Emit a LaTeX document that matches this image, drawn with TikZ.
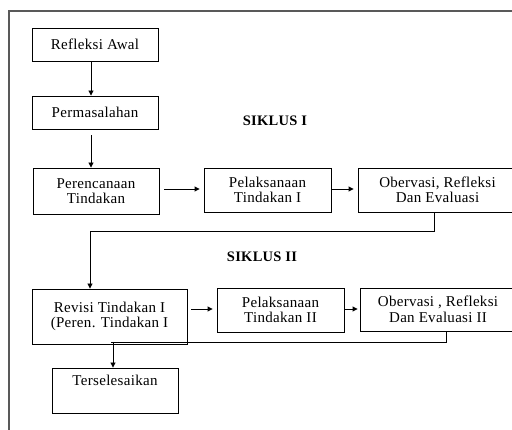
\documentclass[tikz,border=0pt]{standalone}
\usepackage{fontspec}
\setmainfont{Liberation Serif}[LetterSpace=2]
\usetikzlibrary{arrows.meta}

\tikzset{
  kotak/.style={draw, line width=0.9pt, align=center, inner sep=0pt,
    font=\fontsize{15}{15.5}\selectfont},
  judul/.style={font=\fontsize{14.5}{15.5}\selectfont\bfseries},
  panah/.style={line width=0.9pt, -{Triangle[length=5pt,width=5pt]}},
  garis/.style={line width=0.9pt},
  bingkai/.style={line width=1.3pt, black!65}
}

\begin{document}
\begin{tikzpicture}[x=1pt,y=-1pt]
  \useasboundingbox (0,0) rectangle (512,430);
  \clip (0,0) rectangle (512,430);
  \draw[bingkai] (513,11) -- (9,11) -- (9,431);

  % kolom kiri
  \node[kotak, minimum width=126pt, minimum height=33pt] (awal) at (95,44.5) {Refleksi Awal};
  \node[kotak, minimum width=126pt, minimum height=33pt] (masalah) at (95,112.5) {Permasalahan};
  \node[kotak, minimum width=126pt, minimum height=46pt] (rencana) at (96,191) {Perencanaan\\Tindakan};

  % siklus I
  \node[judul] (siklus1) at (275,121) {SIKLUS I};
  \node[kotak, minimum width=127pt, minimum height=44pt] (laksana1) at (267.5,190) {Pelaksanaan\\Tindakan I};
  \node[kotak, minimum width=159pt, minimum height=44pt] (obs1) at (437.5,190) {Obervasi, Refleksi\\Dan Evaluasi};

  % siklus II
  \node[judul] (siklus2) at (262,257) {SIKLUS II};
  \node[kotak, minimum width=155pt, minimum height=55pt] (revisi) at (109.5,316.5) {Revisi Tindakan I\\(Peren. Tindakan I};
  \node[kotak, minimum width=127pt, minimum height=44pt] (laksana2) at (280.5,310) {Pelaksanaan\\Tindakan II};
  \node[kotak, minimum width=156pt, minimum height=43pt] (obs2) at (438,309.5) {Obervasi , Refleksi\\Dan Evaluasi II};
  \node[kotak, minimum width=126pt, text height=15pt, text depth=24pt, inner ysep=3pt] (tersel) at (115,390.5) {Terselesaikan};

  % panah
  \draw[panah] ([xshift=-4pt]awal.south) -- ([xshift=-4pt]masalah.north);
  \draw[panah, shorten <=6pt] ([xshift=-4pt]masalah.south) -- ([xshift=-5pt]rencana.north);
  \draw[panah, shorten <=5pt, shorten >=4pt] ([yshift=2pt]rencana.east) -- ([yshift=1pt]laksana1.west);
  \draw[panah, shorten >=4pt] ([yshift=1pt]laksana1.east) -- ([yshift=1pt]obs1.west);
  \draw[panah] ([xshift=-3.5pt]obs1.south) |- (90,231) -- ([xshift=-19.5pt]revisi.north);
  \draw[panah, shorten <=4pt, shorten >=4pt] ([yshift=7.5pt]revisi.east) -- ([yshift=1pt]laksana2.west);
  \draw[panah, shorten >=2pt] ([yshift=1pt]laksana2.east) -- ([yshift=0.5pt]obs2.west);
  \draw[garis] ([xshift=8pt]obs2.south) |- (111,342);
  \draw[panah] ([xshift=-2pt]tersel.north |- 0,342) -- ([xshift=-2pt]tersel.north);
\end{tikzpicture}
\end{document}
